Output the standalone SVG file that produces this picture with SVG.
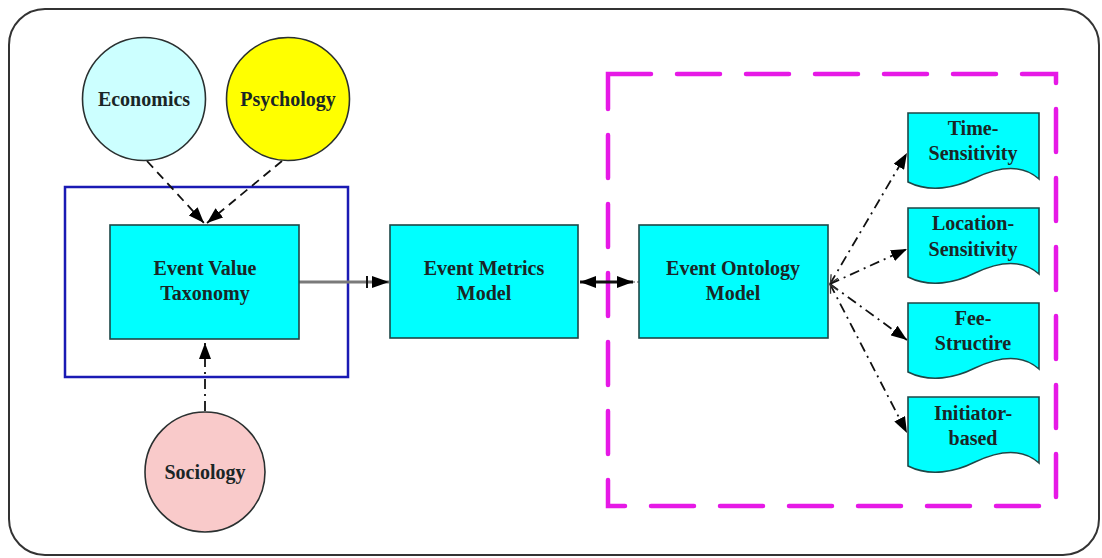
<svg xmlns="http://www.w3.org/2000/svg" width="1102" height="558" viewBox="0 0 1102 558">
  <style>
    .lbl { font-family: "Liberation Serif", "Times New Roman", serif; font-weight: bold; font-size: 20px; fill: #1a2626; text-anchor: middle; }
    .box { fill: #00ffff; stroke: #1d4747; stroke-width: 1.6; }
    .circ { stroke: #2a3030; stroke-width: 1.6; }
    .conn { fill: none; stroke: #111; stroke-width: 1.8; }
    .dash { stroke-dasharray: 9 6; }
    .dashdot { stroke-dasharray: 10 5 2 5; }
  </style>
  <defs>
    <marker id="arrow" viewBox="0 0 16 12" refX="16" refY="6" markerWidth="16" markerHeight="12" markerUnits="userSpaceOnUse" orient="auto">
      <path d="M0,0 L16,6 L0,12 Z" fill="#000"/>
    </marker>
    <marker id="arrowStart" viewBox="0 0 16 12" refX="0" refY="6" markerWidth="16" markerHeight="12" markerUnits="userSpaceOnUse" orient="auto">
      <path d="M16,0 L0,6 L16,12 Z" fill="#000"/>
    </marker>
    <marker id="openStart" viewBox="0 0 10 10" refX="0" refY="5" markerWidth="10" markerHeight="10" markerUnits="userSpaceOnUse" orient="auto">
      <path d="M9,1 L1,5 L9,9" fill="none" stroke="#333" stroke-width="1.3"/>
    </marker>
    <marker id="barArrow" viewBox="0 0 24 14" refX="24" refY="7" markerWidth="24" markerHeight="14" markerUnits="userSpaceOnUse" orient="auto">
      <path d="M2,1 V13" stroke="#111" stroke-width="2"/>
      <path d="M7,1 L24,7 L7,13 Z" fill="#000"/>
    </marker>
    <path id="doc" d="M0,0 H131 V66 C112,49 88,55 67,65 C47,75 22,80 0,69 Z"/>
  </defs>

  <!-- outer frame -->
  <rect x="9" y="9" width="1090" height="546" rx="36" ry="36" fill="#fff" stroke="#333" stroke-width="2"/>

  <!-- groupings -->
  <rect x="65" y="187" width="283" height="190" fill="none" stroke="#1a1ab4" stroke-width="2.5"/>
  <rect x="608" y="74" width="448" height="432" fill="none" stroke="#e619e6" stroke-width="4.5" stroke-dasharray="43 26" stroke-linecap="round"/>

  <!-- connectors -->
  <g id="connectors">
    <line class="conn dash" x1="147" y1="161" x2="204" y2="223" marker-end="url(#arrow)"/>
    <line class="conn dash" x1="282" y1="161" x2="207" y2="223" marker-end="url(#arrow)"/>
    <line class="conn dashdot" x1="205" y1="411" x2="205" y2="343" marker-end="url(#arrow)"/>
    <line x1="299" y1="282" x2="389" y2="282" stroke="#7a7a7a" stroke-width="3" marker-end="url(#barArrow)"/>
    <line x1="580" y1="282" x2="633" y2="282" stroke="#111" stroke-width="3" marker-start="url(#arrowStart)" marker-end="url(#arrow)"/>
    <line x1="633" y1="282" x2="639" y2="282" stroke="#888" stroke-width="1.5" stroke-dasharray="2 2"/>
    <line class="conn dashdot" x1="830" y1="284" x2="907" y2="153" marker-start="url(#openStart)" marker-end="url(#arrow)"/>
    <line class="conn dashdot" x1="830" y1="284" x2="907" y2="249" marker-end="url(#arrow)"/>
    <line class="conn dashdot" x1="830" y1="284" x2="907" y2="340" marker-end="url(#arrow)"/>
    <line class="conn dashdot" x1="830" y1="284" x2="907" y2="433" marker-start="url(#openStart)" marker-end="url(#arrow)"/>
  </g>

  <!-- discipline circles -->
  <g id="economics">
    <circle class="circ" cx="144" cy="99" r="61.5" fill="#ccffff"/>
    <text class="lbl" x="144" y="106">Economics</text>
  </g>
  <g id="psychology">
    <circle class="circ" cx="288" cy="99" r="61.5" fill="#ffff00"/>
    <text class="lbl" x="288" y="106">Psychology</text>
  </g>
  <g id="sociology">
    <circle class="circ" cx="205" cy="472" r="60" fill="#f9caca"/>
    <text class="lbl" x="205" y="479">Sociology</text>
  </g>

  <!-- model boxes -->
  <g id="event-value-taxonomy">
    <rect class="box" x="110" y="225" width="189" height="114"/>
    <text class="lbl" x="205" y="275">Event Value</text>
    <text class="lbl" x="205" y="300">Taxonomy</text>
  </g>
  <g id="event-metrics-model">
    <rect class="box" x="390" y="225" width="188" height="113"/>
    <text class="lbl" x="484" y="275">Event Metrics</text>
    <text class="lbl" x="484" y="300">Model</text>
  </g>
  <g id="event-ontology-model">
    <rect class="box" x="639" y="225" width="189" height="113"/>
    <text class="lbl" x="733" y="275">Event Ontology</text>
    <text class="lbl" x="733" y="300">Model</text>
  </g>

  <!-- ontology dimensions -->
  <g id="time-sensitivity">
    <use href="#doc" x="908" y="113" class="box"/>
    <text class="lbl" x="973" y="135">Time-</text>
    <text class="lbl" x="973" y="160">Sensitivity</text>
  </g>
  <g id="location-sensitivity">
    <use href="#doc" x="908" y="208" class="box"/>
    <text class="lbl" x="973" y="230">Location-</text>
    <text class="lbl" x="973" y="256">Sensitivity</text>
  </g>
  <g id="fee-structure">
    <use href="#doc" x="908" y="303" class="box"/>
    <text class="lbl" x="973" y="325">Fee-</text>
    <text class="lbl" x="973" y="350">Structire</text>
  </g>
  <g id="initiator-based">
    <use href="#doc" x="908" y="397" class="box"/>
    <text class="lbl" x="973" y="420">Initiator-</text>
    <text class="lbl" x="973" y="445">based</text>
  </g>
</svg>
